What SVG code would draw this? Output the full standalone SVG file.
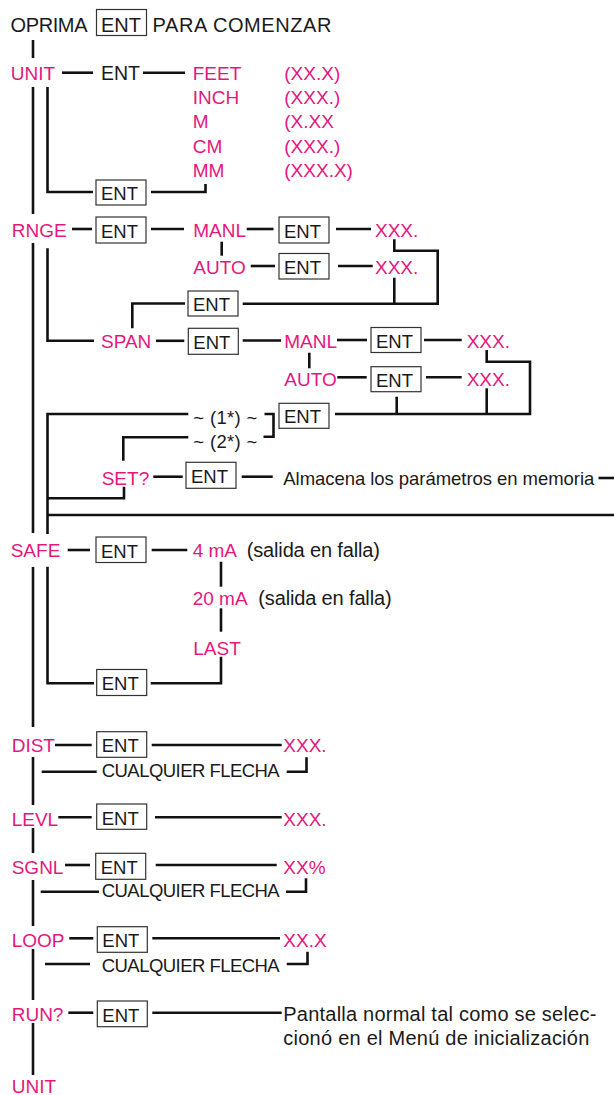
<svg xmlns="http://www.w3.org/2000/svg" width="614" height="1095" viewBox="0 0 614 1095">
<style>
text{font-family:"Liberation Sans",Arial,Helvetica,sans-serif}
.p{fill:#e5177e;font-size:19px}
.k{fill:#1a1a1a;font-size:18.5px}
.h{fill:#1a1a1a;font-size:20px}
.w{font-size:20px}
.bx{fill:#fff;stroke:#333;stroke-width:1.2}
.ln line,.ln polyline{stroke:#111;stroke-width:2.6;fill:none;stroke-linejoin:miter}
</style>
<rect width="614" height="1095" fill="#fff"/>
<g class="ln" id="connectors">
<line x1="33" y1="40" x2="33" y2="58"/>
<line x1="33" y1="87" x2="33" y2="214"/>
<line x1="33" y1="243" x2="33" y2="533"/>
<line x1="33" y1="567" x2="33" y2="727"/>
<line x1="33" y1="757" x2="33" y2="805"/>
<line x1="33" y1="828" x2="33" y2="853"/>
<line x1="33" y1="880" x2="33" y2="926"/>
<line x1="33" y1="949" x2="33" y2="1000"/>
<line x1="33" y1="1023" x2="33" y2="1075"/>
<line x1="62" y1="72.7" x2="93" y2="72.7"/>
<line x1="143" y1="72.7" x2="185" y2="72.7"/>
<polyline points="47.5,87 47.5,192 93,192"/>
<polyline points="151,192 205.5,192 205.5,184"/>
<line x1="72" y1="229" x2="92" y2="229"/>
<line x1="151" y1="229" x2="184" y2="229"/>
<line x1="246.7" y1="229" x2="273.5" y2="229"/>
<line x1="336" y1="229" x2="371" y2="229"/>
<line x1="221.7" y1="241.7" x2="221.7" y2="255.7"/>
<line x1="250.7" y1="266" x2="275" y2="266"/>
<line x1="338" y1="266" x2="372.7" y2="266"/>
<polyline points="394.3,239.3 394.3,250.7 437.7,250.7 437.7,303.7 242.7,303.7"/>
<line x1="394.3" y1="277.7" x2="394.3" y2="303.7"/>
<polyline points="185,303.5 132.3,303.5 132.3,328.3"/>
<polyline points="47.5,248.3 47.5,340.8 94,340.8"/>
<line x1="156" y1="340.8" x2="184.3" y2="340.8"/>
<line x1="242.7" y1="340.5" x2="281" y2="340.5"/>
<line x1="337" y1="340" x2="367" y2="340"/>
<line x1="424" y1="340" x2="461.7" y2="340"/>
<line x1="309.3" y1="352.7" x2="309.3" y2="368.3"/>
<line x1="337.3" y1="377.3" x2="366.7" y2="377.3"/>
<line x1="426" y1="377.3" x2="461.7" y2="377.3"/>
<polyline points="486.7,350 486.7,361.7 530,361.7 530,414 335,414"/>
<line x1="486.7" y1="388.3" x2="486.7" y2="414"/>
<line x1="396.7" y1="396.7" x2="396.7" y2="414"/>
<polyline points="264.5,414 273.5,414 273.5,436.7 263.5,436.7"/>
<polyline points="188.3,414 47.5,414 47.5,534"/>
<polyline points="188.3,437.3 123.3,437.3 123.3,460.7"/>
<line x1="153.3" y1="476.7" x2="182.7" y2="476.7"/>
<line x1="241.7" y1="476.7" x2="272.7" y2="476.7"/>
<line x1="598.5" y1="478" x2="614" y2="478"/>
<polyline points="124,486.7 124,498.3 47.5,498.3"/>
<line x1="47.5" y1="515" x2="614" y2="515"/>
<line x1="67.7" y1="550" x2="90" y2="550"/>
<line x1="151.7" y1="550" x2="187.3" y2="550"/>
<line x1="221" y1="561.7" x2="221" y2="586.7"/>
<line x1="221" y1="608.3" x2="221" y2="631.7"/>
<polyline points="221,656.7 221,683.3 150.7,683.3"/>
<polyline points="47.5,566.7 47.5,683.3 94,683.3"/>
<line x1="55" y1="745" x2="91.7" y2="745"/>
<line x1="151.7" y1="745" x2="281.7" y2="745"/>
<line x1="41.7" y1="771.7" x2="96.7" y2="771.7"/>
<polyline points="286.7,771.7 306.5,771.7 306.5,757.3"/>
<line x1="58.3" y1="817.3" x2="91.7" y2="817.3"/>
<line x1="155" y1="817.3" x2="281.7" y2="817.3"/>
<line x1="65" y1="865" x2="90" y2="865"/>
<line x1="155.7" y1="865" x2="276.7" y2="865"/>
<line x1="40.7" y1="891.7" x2="99" y2="891.7"/>
<polyline points="286,891.7 306,891.7 306,878.3"/>
<line x1="69.3" y1="938.3" x2="93.3" y2="938.3"/>
<line x1="152.3" y1="938.3" x2="280" y2="938.3"/>
<line x1="45" y1="964" x2="90" y2="964"/>
<polyline points="286.7,964 307.5,964 307.5,951.7"/>
<line x1="68.3" y1="1012.7" x2="93.3" y2="1012.7"/>
<line x1="152.3" y1="1012.7" x2="281.7" y2="1012.7"/>
</g>

<g id="header">
<text class="h" x="10.5" y="32" textLength="77">OPRIMA</text>
<rect class="bx" x="96.5" y="9.5" width="50" height="26"/>
<text class="h" x="101" y="31.5">ENT</text>
<text class="h" x="152.5" y="32" textLength="179">PARA COMENZAR</text>
</g>

<g id="unit">
<text class="p" x="10.7" y="80">UNIT</text>
<text class="k" x="101" y="80" style="font-size:19.5px">ENT</text>
</g>
<g id="unit-options">
<text class="p" x="192.7" y="80">FEET</text>
<text class="p" x="192.7" y="104.2">INCH</text>
<text class="p" x="192.7" y="128.4">M</text>
<text class="p" x="192.7" y="152.6">CM</text>
<text class="p" x="192.7" y="176.8">MM</text>
<text class="p" x="284.3" y="80">(XX.X)</text>
<text class="p" x="284.3" y="104.2">(XXX.)</text>
<text class="p" x="284.3" y="128.4">(X.XX</text>
<text class="p" x="284.3" y="152.6">(XXX.)</text>
<text class="p" x="284.3" y="176.8">(XXX.X)</text>
</g>
<g id="unit-ent"><rect class="bx" x="96" y="180" width="50" height="25"/><text class="k" x="101" y="200">ENT</text></g>

<g id="rnge"><text class="p" x="11.7" y="237.3">RNGE</text></g>
<g id="rnge-ent"><rect class="bx" x="96" y="217" width="50" height="26"/><text class="k" x="101" y="237.5">ENT</text></g>
<g id="rnge-manl"><text class="p" x="193.3" y="237.3">MANL</text></g>
<g id="rnge-manl-ent"><rect class="bx" x="279" y="217" width="50" height="26"/><text class="k" x="284" y="237.5">ENT</text></g>
<g id="rnge-manl-val"><text class="p" x="375" y="237.3">XXX.</text></g>
<g id="rnge-auto"><text class="p" x="193.3" y="274.3">AUTO</text></g>
<g id="rnge-auto-ent"><rect class="bx" x="279" y="253.5" width="50" height="25.5"/><text class="k" x="284" y="274">ENT</text></g>
<g id="rnge-auto-val"><text class="p" x="375" y="274.3">XXX.</text></g>
<g id="rnge-ret-ent"><rect class="bx" x="188" y="291" width="50" height="25"/><text class="k" x="193" y="311">ENT</text></g>

<g id="span"><text class="p" x="101" y="348.3">SPAN</text></g>
<g id="span-ent"><rect class="bx" x="188.3" y="328.3" width="50" height="26"/><text class="k" x="193.3" y="349">ENT</text></g>
<g id="span-manl"><text class="p" x="284.3" y="348.3">MANL</text></g>
<g id="span-manl-ent"><rect class="bx" x="371" y="327.5" width="50" height="25"/><text class="k" x="376" y="347.5">ENT</text></g>
<g id="span-manl-val"><text class="p" x="466.7" y="348.3">XXX.</text></g>
<g id="span-auto"><text class="p" x="284.3" y="386">AUTO</text></g>
<g id="span-auto-ent"><rect class="bx" x="371" y="366.7" width="50" height="25"/><text class="k" x="376" y="386.7">ENT</text></g>
<g id="span-auto-val"><text class="p" x="466.7" y="386">XXX.</text></g>
<g id="span-ret-ent"><rect class="bx" x="279" y="403.3" width="50" height="25"/><text class="k" x="284" y="423.3">ENT</text></g>
<g id="note1"><text class="k" x="193.3" y="424" textLength="64">~ (1*) ~</text></g>
<g id="note2"><text class="k" x="193.3" y="447.5" textLength="64">~ (2*) ~</text></g>

<g id="set"><text class="p" x="101.7" y="485">SET?</text></g>
<g id="set-ent"><rect class="bx" x="186" y="462.3" width="50" height="26"/><text class="k" x="191" y="483">ENT</text></g>
<g id="set-msg"><text class="k" x="283.3" y="485" textLength="311">Almacena los parámetros en memoria</text></g>

<g id="safe"><text class="p" x="10.7" y="556.7">SAFE</text></g>
<g id="safe-ent"><rect class="bx" x="96" y="537" width="50" height="25.5"/><text class="k" x="101" y="557.5">ENT</text></g>
<g id="safe-4ma"><text class="p" x="192.7" y="556.7">4 mA</text><text class="k w" x="246.7" y="556.7" textLength="133.3">(salida en falla)</text></g>
<g id="safe-20ma"><text class="p" x="192.7" y="605">20 mA</text><text class="k w" x="258.3" y="605" textLength="133.3">(salida en falla)</text></g>
<g id="safe-last"><text class="p" x="193.3" y="655">LAST</text></g>
<g id="safe-ret-ent"><rect class="bx" x="96.7" y="669.5" width="50" height="26"/><text class="k" x="101.7" y="690">ENT</text></g>

<g id="dist"><text class="p" x="11.7" y="752.3">DIST</text></g>
<g id="dist-ent"><rect class="bx" x="96.7" y="731.7" width="50" height="25.6"/><text class="k" x="101.7" y="752.3">ENT</text></g>
<g id="dist-val"><text class="p" x="283.3" y="752.3">XXX.</text></g>
<g id="dist-arrow"><text class="k" x="101.7" y="776.7" textLength="178">CUALQUIER FLECHA</text></g>

<g id="levl"><text class="p" x="11.7" y="826">LEVL</text></g>
<g id="levl-ent"><rect class="bx" x="96.7" y="804" width="50" height="25.3"/><text class="k" x="101.7" y="824.5">ENT</text></g>
<g id="levl-val"><text class="p" x="283.3" y="826">XXX.</text></g>

<g id="sgnl"><text class="p" x="11.7" y="874.3">SGNL</text></g>
<g id="sgnl-ent"><rect class="bx" x="95.7" y="853.3" width="50" height="26"/><text class="k" x="100.7" y="874">ENT</text></g>
<g id="sgnl-val"><text class="p" x="283.3" y="874.3">XX%</text></g>
<g id="sgnl-arrow"><text class="k" x="101.7" y="897.3" textLength="178">CUALQUIER FLECHA</text></g>

<g id="loop"><text class="p" x="11.7" y="946.7">LOOP</text></g>
<g id="loop-ent"><rect class="bx" x="97.3" y="926.7" width="50" height="25.6"/><text class="k" x="102.3" y="947.3">ENT</text></g>
<g id="loop-val"><text class="p" x="283.3" y="946.7">XX.X</text></g>
<g id="loop-arrow"><text class="k" x="101.7" y="971.7" textLength="178">CUALQUIER FLECHA</text></g>

<g id="run"><text class="p" x="11.7" y="1020.7">RUN?</text></g>
<g id="run-ent"><rect class="bx" x="97.3" y="1001" width="50" height="25.7"/><text class="k" x="102.3" y="1021.7">ENT</text></g>
<g id="run-msg">
<text class="k w" x="283.3" y="1020.7" textLength="313">Pantalla normal tal como se selec-</text>
<text class="k w" x="283.3" y="1045" textLength="306">cionó en el Menú de inicialización</text>
</g>
<g id="unit-end"><text class="p" x="11.7" y="1093">UNIT</text></g>
</svg>
